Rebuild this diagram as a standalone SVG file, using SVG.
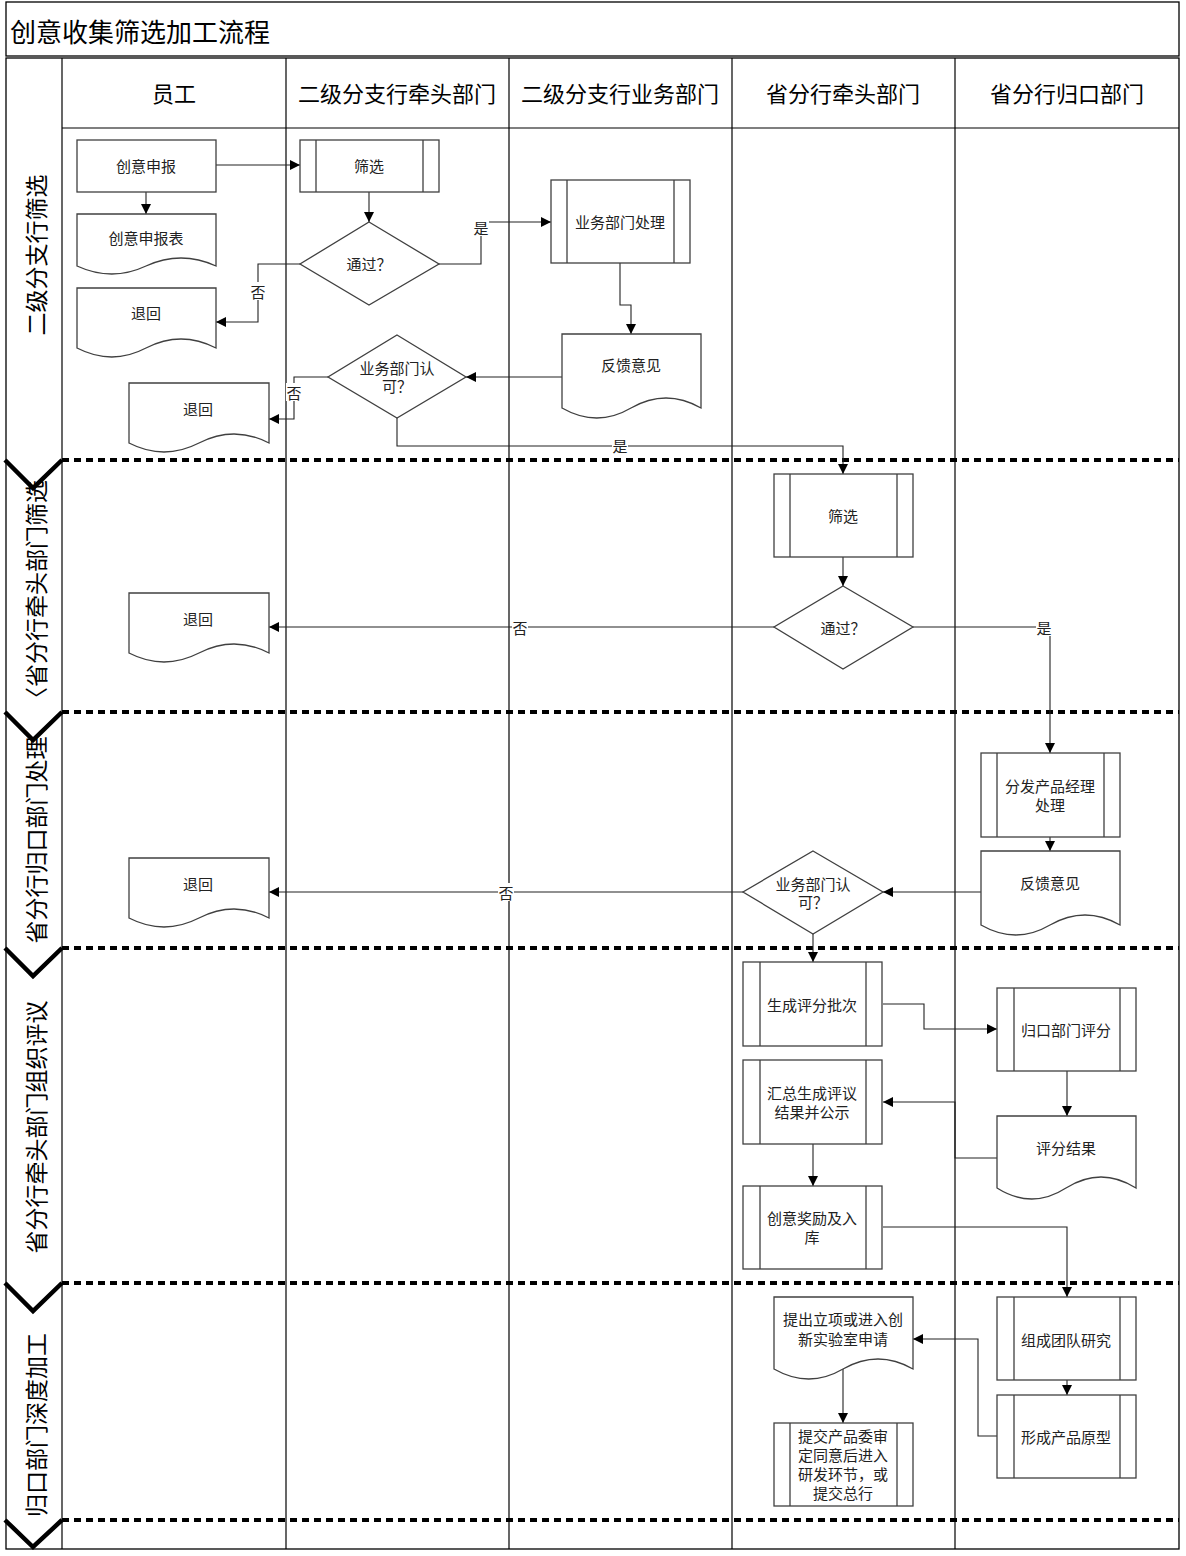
<svg xmlns="http://www.w3.org/2000/svg" width="1186" height="1556" viewBox="0 0 1186 1556">
<style>
.frame{fill:none;stroke:#000;stroke-width:1.3}
.lane{fill:none;stroke:#000;stroke-width:1.2}
.div{fill:none;stroke:#000;stroke-width:4;stroke-dasharray:7 5}
.chev{fill:none;stroke:#000;stroke-width:4.5}
.node{fill:#fff;stroke:#404040;stroke-width:1.3}
.inner{fill:none;stroke:#404040;stroke-width:1.3}
.conn{fill:none;stroke:#222;stroke-width:1.1}
text{font-family:"Noto Sans CJK SC","Noto Sans",sans-serif;fill:#222;text-anchor:middle;dominant-baseline:central}
.t{font-size:15px}
.hdr{font-size:22px;fill:#000}
.ttl{font-size:26px;fill:#000;text-anchor:start}
.ph{font-size:23px;fill:#000}
.lbl{font-size:15px}
.lblbg{fill:#fff}
</style>
<defs>
<marker id="arr" markerWidth="10" markerHeight="10" refX="10" refY="5" orient="auto" markerUnits="userSpaceOnUse"><path d="M0,0 L10,5 L0,10 Z" fill="#000"/></marker>
</defs>
<rect width="1186" height="1556" fill="#fff"/>
<g id="frame">
<rect class="frame" x="6" y="2" width="1173" height="54"/>
<text class="ttl" x="10" y="30">创意收集筛选加工流程</text>
<rect class="frame" x="6" y="58" width="1173" height="1491"/>
<line class="lane" x1="62" y1="58" x2="62" y2="1549"/>
<line class="lane" x1="62" y1="128" x2="1179" y2="128"/>
<line class="lane" x1="286" y1="58" x2="286" y2="1549"/>
<line class="lane" x1="509" y1="58" x2="509" y2="1549"/>
<line class="lane" x1="732" y1="58" x2="732" y2="1549"/>
<line class="lane" x1="955" y1="58" x2="955" y2="1549"/>
<text class="hdr" x="174" y="92">员工</text>
<text class="hdr" x="397" y="92">二级分支行牵头部门</text>
<text class="hdr" x="620" y="92">二级分支行业务部门</text>
<text class="hdr" x="843" y="92">省分行牵头部门</text>
<text class="hdr" x="1067" y="92">省分行归口部门</text>
</g>
<g id="phases">
<line class="div" x1="62" y1="460" x2="1179" y2="460"/>
<line class="div" x1="62" y1="712" x2="1179" y2="712"/>
<line class="div" x1="62" y1="948" x2="1179" y2="948"/>
<line class="div" x1="62" y1="1283" x2="1179" y2="1283"/>
<line class="div" x1="62" y1="1520" x2="1179" y2="1520"/>
<text class="ph" x="35" y="255" transform="rotate(-90 35 255)">二级分支行筛选</text>
<text class="ph" x="35" y="595" transform="rotate(-90 35 595)">〈省分行牵头部门筛选</text>
<text class="ph" x="35" y="840" transform="rotate(-90 35 840)">省分行归口部门处理</text>
<text class="ph" x="35" y="1127" transform="rotate(-90 35 1127)">省分行牵头部门组织评议</text>
<text class="ph" x="35" y="1425" transform="rotate(-90 35 1425)">归口部门深度加工</text>
<path class="chev" d="M5,460 L33,488 L62,460"/>
<path class="chev" d="M5,712 L33,740 L62,712"/>
<path class="chev" d="M5,948 L33,976 L62,948"/>
<path class="chev" d="M5,1283 L33,1311 L62,1283"/>
<path class="chev" d="M5,1520 L33,1547 L62,1520"/>
</g>
<g id="connectors">
<path class="conn" marker-end="url(#arr)" d="M216,165 H300"/>
<path class="conn" marker-end="url(#arr)" d="M146,192 V214"/>
<path class="conn" marker-end="url(#arr)" d="M369,192 V222"/>
<path class="conn" marker-end="url(#arr)" d="M439,264 H481 V222 H551"/>
<path class="conn" marker-end="url(#arr)" d="M300,264 H258 V322 H216"/>
<path class="conn" marker-end="url(#arr)" d="M620,263 V305 H631 V334"/>
<path class="conn" marker-end="url(#arr)" d="M562,377 H466"/>
<path class="conn" marker-end="url(#arr)" d="M328,377 H294 V419 H269"/>
<path class="conn" marker-end="url(#arr)" d="M397,418 V446 H843 V474"/>
<path class="conn" marker-end="url(#arr)" d="M843,557 V586"/>
<path class="conn" marker-end="url(#arr)" d="M774,627 H269"/>
<path class="conn" marker-end="url(#arr)" d="M913,627 H1050 V753"/>
<path class="conn" marker-end="url(#arr)" d="M1050,837 V851"/>
<path class="conn" marker-end="url(#arr)" d="M981,892 H883"/>
<path class="conn" marker-end="url(#arr)" d="M743,892 H269"/>
<path class="conn" marker-end="url(#arr)" d="M813,934 V962"/>
<path class="conn" marker-end="url(#arr)" d="M883,1004 H924 V1029 H997"/>
<path class="conn" marker-end="url(#arr)" d="M1067,1071 V1116"/>
<path class="conn" marker-end="url(#arr)" d="M997,1158 H955 V1102 H883"/>
<path class="conn" marker-end="url(#arr)" d="M813,1144 V1186"/>
<path class="conn" marker-end="url(#arr)" d="M883,1227 H1067 V1297"/>
<path class="conn" marker-end="url(#arr)" d="M1067,1380 V1395"/>
<path class="conn" marker-end="url(#arr)" d="M997,1436 H978 V1339 H913"/>
<path class="conn" marker-end="url(#arr)" d="M843,1369 V1423"/>
<rect class="lblbg" x="473" y="218" width="16" height="18"/><text class="lbl" x="481" y="227">是</text>
<rect class="lblbg" x="250" y="282" width="16" height="18"/><text class="lbl" x="258" y="291">否</text>
<rect class="lblbg" x="286" y="383" width="16" height="18"/><text class="lbl" x="294" y="392">否</text>
<rect class="lblbg" x="612" y="437" width="16" height="18"/><text class="lbl" x="620" y="445">是</text>
<rect class="lblbg" x="512" y="618" width="16" height="18"/><text class="lbl" x="520" y="627">否</text>
<rect class="lblbg" x="1036" y="618" width="16" height="18"/><text class="lbl" x="1044" y="627">是</text>
<rect class="lblbg" x="498" y="883" width="16" height="18"/><text class="lbl" x="506" y="892">否</text>
</g>
<g id="n1"><rect class="node" x="77" y="140" width="139" height="52"/><text class="t" x="146" y="165">创意申报</text></g>
<g id="n2"><path class="node" d="M77,214 H216 V266 Q181,250 146,266 Q112,282 77,266 Z"/><text class="t" x="146" y="237">创意申报表</text></g>
<g id="n3"><path class="node" d="M77,288 H216 V348 Q181,330 146,348 Q112,366 77,348 Z"/><text class="t" x="146" y="312">退回</text></g>
<g id="n4"><rect class="node" x="300" y="140" width="139" height="52"/><path class="inner" d="M316,140 V192 M423,140 V192"/><text class="t" x="369" y="165">筛选</text></g>
<g id="n5"><path class="node" d="M369,222 L439,264 L369,305 L300,264 Z"/><text class="t" x="369" y="263">通过？</text></g>
<g id="n6"><rect class="node" x="551" y="180" width="139" height="83"/><path class="inner" d="M567,180 V263 M674,180 V263"/><text class="t" x="620" y="221">业务部门处理</text></g>
<g id="n7"><path class="node" d="M562,334 H701 V408 Q666,388 631,408 Q597,428 562,408 Z"/><text class="t" x="631" y="364">反馈意见</text></g>
<g id="n8"><path class="node" d="M397,335 L466,377 L397,418 L328,377 Z"/><text class="t" x="397" y="367">业务部门认</text><text class="t" x="397" y="385">可？</text></g>
<g id="n9"><path class="node" d="M129,383 H269 V443 Q234,425 199,443 Q164,461 129,443 Z"/><text class="t" x="198" y="408">退回</text></g>
<g id="n10"><rect class="node" x="774" y="474" width="139" height="83"/><path class="inner" d="M790,474 V557 M897,474 V557"/><text class="t" x="843" y="515">筛选</text></g>
<g id="n11"><path class="node" d="M843,586 L913,627 L843,669 L774,627 Z"/><text class="t" x="843" y="627">通过？</text></g>
<g id="n12"><path class="node" d="M129,593 H269 V653 Q234,635 199,653 Q164,671 129,653 Z"/><text class="t" x="198" y="618">退回</text></g>
<g id="n13"><rect class="node" x="981" y="753" width="139" height="84"/><path class="inner" d="M997,753 V837 M1104,753 V837"/><text class="t" x="1050" y="785">分发产品经理</text><text class="t" x="1050" y="804">处理</text></g>
<g id="n14"><path class="node" d="M981,851 H1120 V925 Q1085,905 1050,925 Q1016,945 981,925 Z"/><text class="t" x="1050" y="882">反馈意见</text></g>
<g id="n15"><path class="node" d="M813,851 L883,892 L813,934 L743,892 Z"/><text class="t" x="813" y="883">业务部门认</text><text class="t" x="813" y="901">可？</text></g>
<g id="n16"><path class="node" d="M129,858 H269 V918 Q234,900 199,918 Q164,936 129,918 Z"/><text class="t" x="198" y="883">退回</text></g>
<g id="n17"><rect class="node" x="743" y="962" width="139" height="84"/><path class="inner" d="M760,962 V1046 M866,962 V1046"/><text class="t" x="812" y="1004">生成评分批次</text></g>
<g id="n18"><rect class="node" x="997" y="988" width="139" height="83"/><path class="inner" d="M1014,988 V1071 M1120,988 V1071"/><text class="t" x="1066" y="1029">归口部门评分</text></g>
<g id="n19"><path class="node" d="M997,1116 H1136 V1188 Q1101,1166 1066,1188 Q1032,1210 997,1188 Z"/><text class="t" x="1066" y="1147">评分结果</text></g>
<g id="n20"><rect class="node" x="743" y="1060" width="139" height="84"/><path class="inner" d="M760,1060 V1144 M866,1060 V1144"/><text class="t" x="812" y="1092">汇总生成评议</text><text class="t" x="812" y="1111">结果并公示</text></g>
<g id="n21"><rect class="node" x="743" y="1186" width="139" height="83"/><path class="inner" d="M760,1186 V1269 M866,1186 V1269"/><text class="t" x="812" y="1217">创意奖励及入</text><text class="t" x="812" y="1236">库</text></g>
<g id="n22"><rect class="node" x="997" y="1297" width="139" height="83"/><path class="inner" d="M1014,1297 V1380 M1120,1297 V1380"/><text class="t" x="1066" y="1339">组成团队研究</text></g>
<g id="n23"><rect class="node" x="997" y="1395" width="139" height="83"/><path class="inner" d="M1014,1395 V1478 M1120,1395 V1478"/><text class="t" x="1066" y="1436">形成产品原型</text></g>
<g id="n24"><path class="node" d="M774,1297 H913 V1369 Q878,1349 843,1369 Q809,1389 774,1369 Z"/><text class="t" x="843" y="1318">提出立项或进入创</text><text class="t" x="843" y="1338">新实验室申请</text></g>
<g id="n25"><rect class="node" x="774" y="1423" width="139" height="83"/><path class="inner" d="M790,1423 V1506 M897,1423 V1506"/><text class="t" x="843" y="1435">提交产品委审</text><text class="t" x="843" y="1454">定同意后进入</text><text class="t" x="843" y="1473">研发环节，或</text><text class="t" x="843" y="1492">提交总行</text></g>
</svg>
